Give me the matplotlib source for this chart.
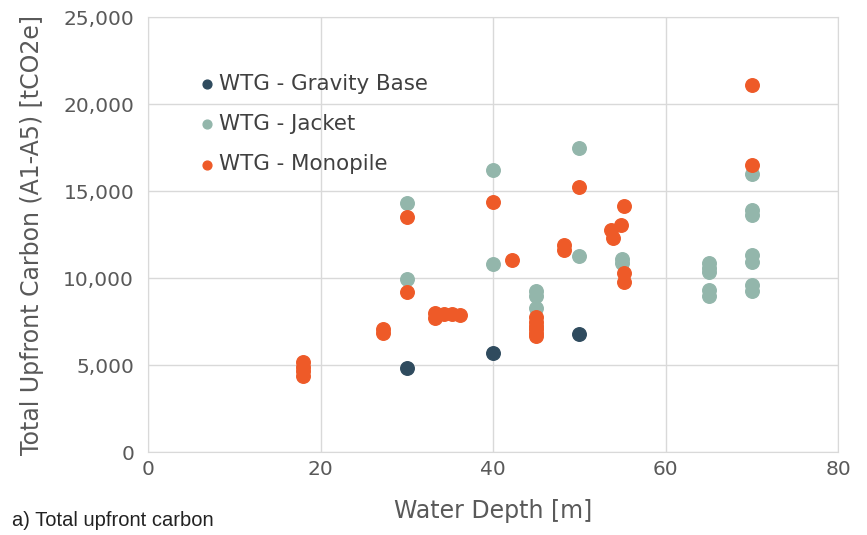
import matplotlib
matplotlib.use('Agg')
from matplotlib import pyplot as plt

# water depth [m] and total upfront carbon [tCO2e]
gravity_x = [30, 40, 50]
gravity_y = [4850, 5700, 6800]

jacket_x = [30, 30, 40, 40, 45, 45, 45, 50, 50, 55, 55,
            65, 65, 65, 65, 65, 70, 70, 70, 70, 70, 70, 70]
jacket_y = [14300, 9950, 16200, 10800, 9250, 8950, 8300, 17450, 11250, 11100, 10850,
            10850, 10600, 10350, 9300, 8950, 16000, 13900, 13650, 11300, 10900, 9600, 9250]

monopile_x = [18, 18, 18, 18, 27.3, 27.3, 30, 30, 33.3, 33.3, 34.3, 35.2, 36.2,
              40, 42.2, 45, 45, 45, 45, 45, 45, 48.2, 48.2, 50,
              53.7, 53.9, 54.8, 55.2, 55.2, 55.2, 70, 70]
monopile_y = [5150, 4900, 4650, 4400, 7100, 6850, 13500, 9200, 8000, 7700, 7950, 7950, 7850,
              14400, 11050, 7750, 7500, 7250, 7050, 6850, 6650, 11900, 11600, 15250,
              12750, 12300, 13050, 14150, 10300, 9750, 21100, 16500]

x_ticks = [0, 20, 40, 60, 80]
y_ticks = [0, 5000, 10000, 15000, 20000, 25000]

c_gravity = '#2f4b5e'
c_jacket = '#93b6ab'
c_monopile = '#ee5a28'
c_text = '#595959'
c_grid = '#d9d9d9'

fig = plt.figure(figsize=(8.67, 5.35), dpi=100)
ax = fig.add_axes([0.1707, 0.155, 0.7959, 0.813])

ax.scatter(gravity_x, gravity_y, s=95, color=c_gravity, label='WTG - Gravity Base', zorder=3)
ax.scatter(jacket_x, jacket_y, s=95, color=c_jacket, label='WTG - Jacket', zorder=3)
ax.scatter(monopile_x, monopile_y, s=95, color=c_monopile, label='WTG - Monopile', zorder=3)

ax.set_xlim(0, 80)
ax.set_ylim(0, 25000)
ax.set_xticks(x_ticks)
ax.set_yticks(y_ticks)
ax.set_yticklabels([f'{v:,}' for v in y_ticks])
ax.tick_params(length=0, labelsize=14.5, colors=c_text)
ax.tick_params(axis='x', pad=6)
ax.tick_params(axis='y', pad=10)
ax.grid(True, color=c_grid, linewidth=1)
ax.set_axisbelow(True)
for sp in ax.spines.values():
    sp.set_color(c_grid)

ax.set_xlabel('Water Depth [m]', fontsize=17, color=c_text, labelpad=14)
ax.set_ylabel('Total Upfront Carbon (A1-A5) [tCO2e]', fontsize=17, color=c_text, labelpad=14)

leg = ax.legend(loc='upper left', bbox_to_anchor=(0.042, 0.914), frameon=False,
                fontsize=15.4, markerscale=0.65, handletextpad=0.05, labelspacing=0.95,
                handlelength=1.0)
for t in leg.get_texts():
    t.set_color('#404040')

fig.text(0.014, 0.016, 'a) Total upfront carbon', fontsize=14.5, color='#222222',
         family=['Liberation Sans Narrow', 'Liberation Sans'])

fig.savefig('out.png', dpi=100)
